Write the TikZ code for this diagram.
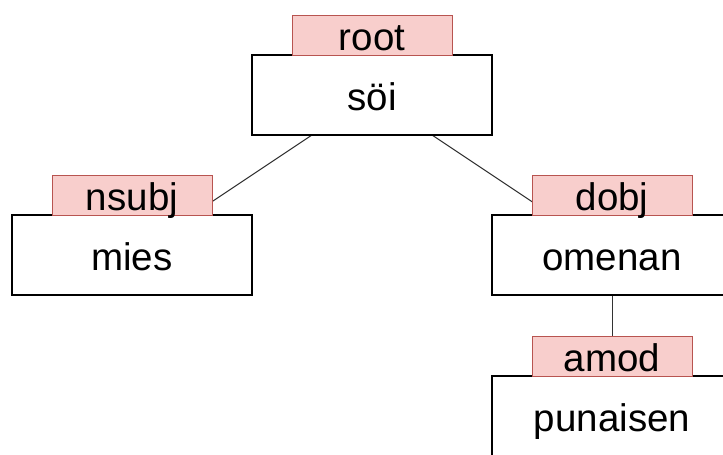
\documentclass[tikz,border=0pt]{standalone}
\usepackage{fontspec}
\setmainfont{Liberation Sans}
\usetikzlibrary{backgrounds}
\definecolor{lblfill}{HTML}{F8CECC}
\definecolor{lbldraw}{HTML}{B85450}
\tikzset{
  wordbox/.style={draw=black, line width=1.5pt, fill=white, rectangle, inner sep=0pt,
    minimum width=240pt, minimum height=80pt, text height=30pt, text depth=0pt,
    font=\fontsize{38.5}{46}\selectfont},
  relbox/.style={draw=lbldraw, line width=1pt, fill=lblfill, rectangle, inner sep=0pt,
    minimum width=160pt, minimum height=40pt, text height=30pt, text depth=0pt,
    font=\fontsize{38.5}{46}\selectfont},
  conn/.style={draw=black!80, line width=1pt}
}
\begin{document}
\begin{tikzpicture}[x=1pt,y=-1pt]
\useasboundingbox (0,0) rectangle (723,455);
\clip (0,0) rectangle (723,455);
\node[wordbox] (soi) at (372,95) {söi};
\node[relbox] (root) at (372,35) {root};
\node[wordbox] (mies) at (132,255) {mies};
\node[relbox] (nsubj) at (132,195) {nsubj};
\node[wordbox] (omenan) at (612,255) {omenan};
\node[relbox] (dobj) at (612,195) {dobj};
\node[wordbox] (punaisen) at (612,416) {punaisen};
\node[relbox] (amod) at (612,356) {amod};
\begin{scope}[on background layer]
\draw[conn] (soi.center) -- (mies.center);
\draw[conn] (soi.center) -- (omenan.center);
\draw[conn] (omenan.center) -- (punaisen.center);
\end{scope}
\end{tikzpicture}
\end{document}
